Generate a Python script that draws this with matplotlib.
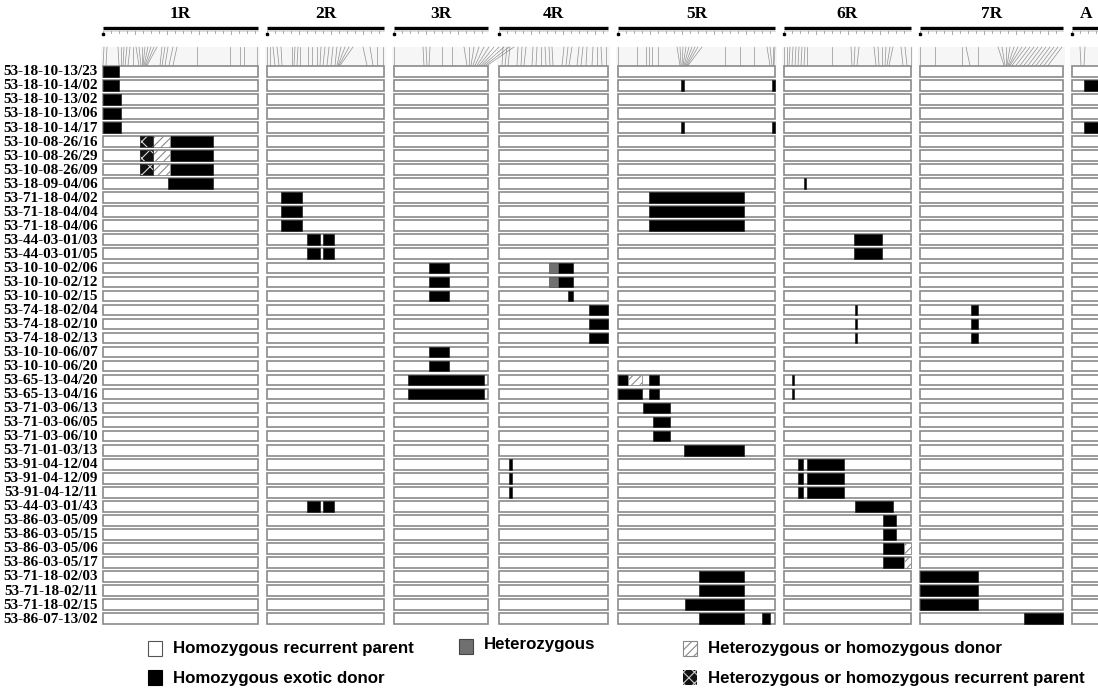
import matplotlib
matplotlib.use("Agg")
import matplotlib.pyplot as plt
from matplotlib.patches import Rectangle
import numpy as np

# ---------------- data ----------------
chromosomes = ["1R", "2R", "3R", "4R", "5R", "6R", "7R", "A"]
chrom_lengths = [155, 117, 94, 109, 157, 127, 143, 28]

line_names = [
    "53-18-10-13/23", "53-18-10-14/02", "53-18-10-13/02", "53-18-10-13/06",
    "53-18-10-14/17", "53-10-08-26/16", "53-10-08-26/29", "53-10-08-26/09",
    "53-18-09-04/06", "53-71-18-04/02", "53-71-18-04/04", "53-71-18-04/06",
    "53-44-03-01/03", "53-44-03-01/05", "53-10-10-02/06", "53-10-10-02/12",
    "53-10-10-02/15", "53-74-18-02/04", "53-74-18-02/10", "53-74-18-02/13",
    "53-10-10-06/07", "53-10-10-06/20", "53-65-13-04/20", "53-65-13-04/16",
    "53-71-03-06/13", "53-71-03-06/05", "53-71-03-06/10", "53-71-01-03/13",
    "53-91-04-12/04", "53-91-04-12/09", "53-91-04-12/11", "53-44-03-01/43",
    "53-86-03-05/09", "53-86-03-05/15", "53-86-03-05/06", "53-86-03-05/17",
    "53-71-18-02/03", "53-71-18-02/11", "53-71-18-02/15", "53-86-07-13/02",
]

# segments: (line number 1-based, chromosome, start, end) in map units
donor_segments = [
    (1, "1R", 0, 16), (2, "1R", 0, 16), (3, "1R", 0, 18), (4, "1R", 0, 18), (5, "1R", 0, 18),
    (2, "5R", 63, 66), (2, "5R", 154, 157), (2, "A", 12, 28),
    (5, "5R", 63, 66), (5, "5R", 154, 157), (5, "A", 12, 28),
    (6, "1R", 67, 110), (7, "1R", 67, 110), (8, "1R", 67, 110),
    (9, "1R", 65, 110), (9, "6R", 20, 22),
    (10, "2R", 14, 35), (11, "2R", 14, 35), (12, "2R", 14, 35),
    (10, "5R", 31, 126), (11, "5R", 31, 126), (12, "5R", 31, 126),
    (13, "2R", 40, 53), (13, "2R", 56, 67), (13, "6R", 70, 98),
    (14, "2R", 40, 53), (14, "2R", 56, 67), (14, "6R", 70, 98),
    (15, "3R", 35, 55), (15, "4R", 59, 74),
    (16, "3R", 35, 55), (16, "4R", 59, 74),
    (17, "3R", 35, 55), (17, "4R", 69, 74),
    (18, "4R", 90, 109), (18, "6R", 70.5, 72.5), (18, "7R", 51, 58),
    (19, "4R", 90, 109), (19, "6R", 70.5, 72.5), (19, "7R", 51, 58),
    (20, "4R", 90, 109), (20, "6R", 70.5, 72.5), (20, "7R", 51, 58),
    (21, "3R", 35, 55), (22, "3R", 35, 55),
    (23, "3R", 14, 90), (23, "5R", 0, 10), (23, "5R", 31, 41), (23, "6R", 8, 10),
    (24, "3R", 14, 90), (24, "5R", 0, 24), (24, "5R", 31, 41), (24, "6R", 8, 10),
    (25, "5R", 25, 52), (26, "5R", 35, 52), (27, "5R", 35, 52),
    (28, "5R", 66, 126),
    (29, "4R", 10, 13), (29, "6R", 14, 19), (29, "6R", 23, 60),
    (30, "4R", 10, 13), (30, "6R", 14, 19), (30, "6R", 23, 60),
    (31, "4R", 10, 13), (31, "6R", 14, 19), (31, "6R", 23, 60),
    (32, "2R", 40, 53), (32, "2R", 56, 67), (32, "6R", 71, 109),
    (33, "6R", 99, 112), (34, "6R", 99, 112),
    (35, "6R", 99, 120), (36, "6R", 99, 120),
    (37, "5R", 81, 126), (37, "7R", 0, 58),
    (38, "5R", 81, 126), (38, "7R", 0, 58),
    (39, "5R", 67, 126), (39, "7R", 0, 58),
    (40, "5R", 81, 126), (40, "5R", 144, 152), (40, "7R", 104, 143),
]
het_segments = [(15, "4R", 50, 59), (16, "4R", 50, 59)]
het_or_donor_segments = [
    (6, "1R", 50, 67), (7, "1R", 50, 67), (8, "1R", 50, 67),
    (23, "5R", 10, 24), (35, "6R", 120, 127), (36, "6R", 120, 127),
]
het_or_recurrent_segments = [(6, "1R", 37, 50), (7, "1R", 37, 50), (8, "1R", 37, 50)]

# marker connection lines (genetic map position -> physical position)
fan_tops = {
    "1R": [1, 4, 15, 18, 21, 24, 27, 30, 33, 36, 39, 42, 45, 48, 51, 54, 59, 62, 65, 70, 74, 94, 127, 137, 141, 154],
    "2R": [0, 3, 6, 10, 14, 25, 28, 31, 33, 41, 45, 50, 54, 58, 62, 66, 70, 74, 78, 82, 86, 96, 103, 110, 116],
    "3R": [0, 29, 32, 36, 48, 58, 70, 75, 80, 85, 90, 95, 100, 105, 110, 115, 120],
    "4R": [4, 8, 11, 19, 23, 27, 34, 38, 42, 46, 50, 53, 65, 69, 73, 80, 84, 88, 94, 98, 102, 107],
    "5R": [0, 19, 28, 31, 34, 40, 59, 62, 65, 68, 71, 74, 77, 80, 84, 107, 122, 136, 149, 152, 155, 157],
    "6R": [0, 3, 6, 9, 12, 15, 18, 21, 23, 48, 67, 71, 75, 90, 94, 98, 102, 106, 109, 117, 121, 127],
    "7R": [0, 15, 42, 46, 58, 78, 82, 86, 90, 94, 98, 102, 106, 110, 114, 118, 122, 126, 130, 134, 138, 142],
    "A": [8, 13],
}
fan_bottoms = {
    "1R": [0, 3, 16, 18, 20, 22, 25, 30, 36, 38, 39, 40, 41, 42, 43, 44, 57, 59, 62, 66, 70, 94, 127, 137, 141, 154],
    "2R": [0, 3, 8, 12, 15, 25, 27, 30, 33, 41, 45, 50, 53, 56, 60, 64, 68, 70, 71, 72, 73, 100, 106, 110, 116],
    "3R": [0, 30, 33, 35, 48, 58, 73, 75, 77, 79, 81, 83, 85, 87, 89, 91, 93],
    "4R": [3, 6, 9, 18, 22, 25, 33, 37, 42, 47, 51, 54, 63, 67, 70, 78, 82, 87, 93, 98, 103, 107],
    "5R": [0, 19, 28, 31, 34, 40, 62, 63, 64, 65, 66, 67, 68, 69, 70, 107, 122, 136, 152, 154, 155, 156],
    "6R": [0, 3, 5, 8, 11, 14, 17, 20, 23, 48, 68, 70, 73, 92, 95, 98, 101, 103, 105, 119, 123, 127],
    "7R": [0, 15, 42, 50, 58, 84, 85, 86, 87, 88, 89, 90, 92, 96, 100, 104, 108, 112, 116, 120, 124, 128],
    "A": [9, 12],
}

legend_labels = [
    "Homozygous recurrent parent", "Heterozygous", "Heterozygous or homozygous donor",
    "Homozygous exotic donor", "Heterozygous or homozygous recurrent parent",
]

# ---------------- layout ----------------
W, H = 1098, 693
LEFT = 103
GAPS = [9, 10, 11, 10, 9, 9, 9]
ROW0 = 71.4
PITCH = 14.03
BOX_H = 10.6
HEADER_Y = 27.5
FAN_TOP, FAN_BOT = 47, 65.5

starts = [LEFT]
for L, g in zip(chrom_lengths[:-1], GAPS):
    starts.append(starts[-1] + L + g)
chrom_start = dict(zip(chromosomes, starts))
chrom_len = dict(zip(chromosomes, chrom_lengths))

def row_y(i):
    return ROW0 + (i - 1) * PITCH

plt.rcParams["hatch.linewidth"] = 0.8
fig = plt.figure(figsize=(W / 100, H / 100), dpi=100)
ax = fig.add_axes([0, 0, 1, 1])
ax.set_xlim(0, W)
ax.set_ylim(H, 0)
ax.axis("off")

EDGE = "#8a8a8a"

# headers, rulers, fans
for c in chromosomes:
    x0 = chrom_start[c]
    L = chrom_len[c]
    ax.plot([x0, x0 + L], [HEADER_Y, HEADER_Y], color="black", lw=2.4,
            solid_capstyle="butt", zorder=3)
    ax.text(x0 + L / 2 if c != "A" else x0 + 14, 14, c, ha="center", va="center",
            family="Liberation Serif", fontweight="bold", fontsize=12.5)
    # ruler ticks
    ax.plot([x0, x0 + L], [31.2, 31.2], color="#cfcfcf", lw=0.5, zorder=2)
    for k, t in enumerate(np.arange(0, L, 8.0)):
        ax.plot([x0 + t, x0 + t], [31.2, 33.0 if k % 4 else 34.2],
                color="#9a9a9a", lw=0.6, zorder=2)
    ax.plot([x0], [34.3], marker="s", ms=1.5, color="black", zorder=3)
    # fan background
    ax.add_patch(Rectangle((x0 - 2, FAN_TOP), L + 4, FAN_BOT - FAN_TOP,
                           facecolor="#f6f6f6", edgecolor="none", zorder=0))
    for t, b in zip(fan_tops[c], fan_bottoms[c]):
        ax.plot([x0 + t, x0 + b], [FAN_TOP, FAN_BOT], color="#6e6e6e",
                lw=0.5, alpha=0.75, zorder=1)

# row boxes
for i, name in enumerate(line_names, start=1):
    y = row_y(i)
    ax.text(98, y + 0.5, name, ha="right", va="center",
            family="Liberation Serif", fontweight="bold", fontsize=10.9)
    for c in chromosomes:
        ax.add_patch(Rectangle((chrom_start[c], y - BOX_H / 2), chrom_len[c], BOX_H,
                               facecolor="white", edgecolor=EDGE, lw=1.2, zorder=2))

def seg_rect(row, c, s, e):
    return chrom_start[c] + s, row_y(row) - BOX_H / 2, e - s, BOX_H

for row, c, s, e in donor_segments:
    x, y, w, h = seg_rect(row, c, s, e)
    ax.add_patch(Rectangle((x, y), w, h, facecolor="black", edgecolor="#222222",
                           lw=0.5, zorder=4))
for row, c, s, e in het_segments:
    x, y, w, h = seg_rect(row, c, s, e)
    ax.add_patch(Rectangle((x, y), w, h, facecolor="#707070", edgecolor="#555555",
                           lw=0.5, zorder=4))
for row, c, s, e in het_or_donor_segments:
    x, y, w, h = seg_rect(row, c, s, e)
    ax.add_patch(Rectangle((x, y), w, h, facecolor="white", edgecolor="#8a8a8a",
                           hatch="////", lw=0.6, zorder=4))
for row, c, s, e in het_or_recurrent_segments:
    x, y, w, h = seg_rect(row, c, s, e)
    ax.add_patch(Rectangle((x, y), w, h, facecolor="#111111", edgecolor="#d8d8d8",
                           hatch="xx", lw=0, zorder=4))
    ax.add_patch(Rectangle((x, y), w, h, facecolor="none", edgecolor="#333333",
                           lw=0.6, zorder=5))

# legend
leg_pos = [(148, 641), (459, 639), (683, 641), (148, 670), (683, 670)]
leg_style = [
    dict(facecolor="white", edgecolor="#555555", lw=0.8),
    dict(facecolor="#707070", edgecolor="#444444", lw=0.8),
    dict(facecolor="white", edgecolor="#888888", hatch="////", lw=0.8),
    dict(facecolor="black", edgecolor="black", lw=0.8),
    dict(facecolor="#111111", edgecolor="#cccccc", hatch="xxx", lw=0),
]
for (x, y), st, lab in zip(leg_pos, leg_style, legend_labels):
    ax.add_patch(Rectangle((x, y), 14, 15, zorder=4, **st))
    ty = y + 8 if lab != "Heterozygous" else y + 6
    ax.text(x + 25, ty, lab, ha="left", va="center", family="Liberation Sans",
            fontweight="bold", fontsize=12.2)

fig.savefig("out.png", dpi=100, facecolor="white")
